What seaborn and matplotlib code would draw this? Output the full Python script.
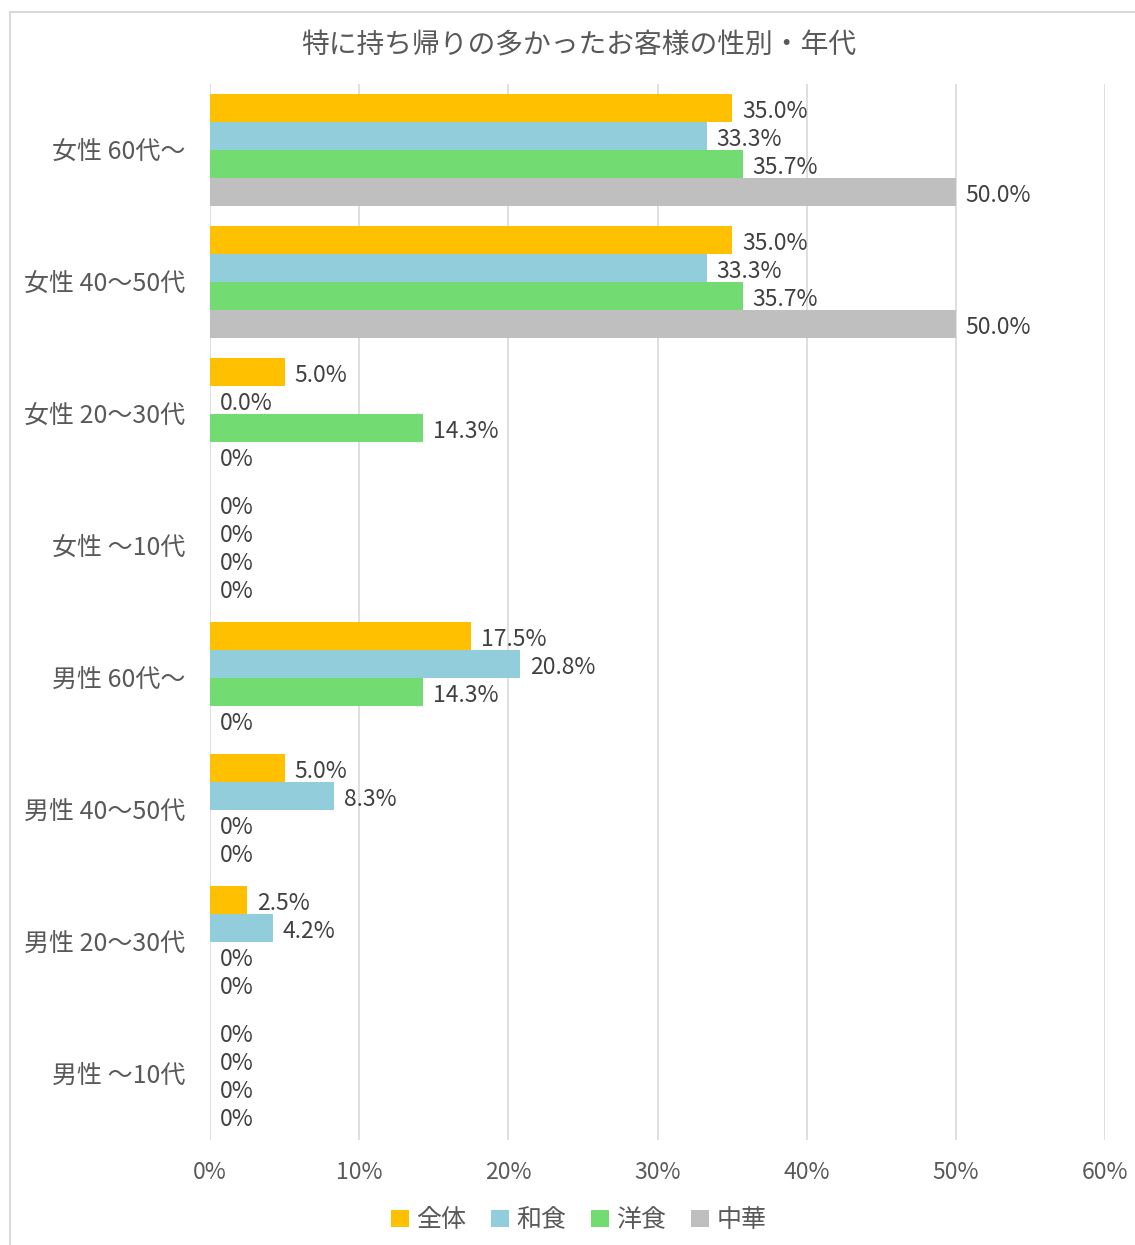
import matplotlib
matplotlib.use("Agg")
import matplotlib.pyplot as plt
import seaborn as sns
import pandas as pd
from matplotlib.patches import Patch, Rectangle

categories = ["女性 60代～", "女性 40～50代", "女性 20～30代", "女性 ～10代",
              "男性 60代～", "男性 40～50代", "男性 20～30代", "男性 ～10代"]
series = ["全体", "和食", "洋食", "中華"]
zentai = [35.0, 35.0, 5.0, 0, 17.5, 5.0, 2.5, 0]
washoku = [33.3, 33.3, 0.0, 0, 20.8, 8.3, 4.2, 0]
yoshoku = [35.7, 35.7, 14.3, 0, 14.3, 0, 0, 0]
chuka = [50.0, 50.0, 0, 0, 0, 0, 0, 0]
labels_zentai = ["35.0%", "35.0%", "5.0%", "0%", "17.5%", "5.0%", "2.5%", "0%"]
labels_washoku = ["33.3%", "33.3%", "0.0%", "0%", "20.8%", "8.3%", "4.2%", "0%"]
labels_yoshoku = ["35.7%", "35.7%", "14.3%", "0%", "14.3%", "0%", "0%", "0%"]
labels_chuka = ["50.0%", "50.0%", "0%", "0%", "0%", "0%", "0%", "0%"]
colors = ["#FFC000", "#92CDDC", "#72DC72", "#BFBFBF"]
x_ticks = [0, 10, 20, 30, 40, 50, 60]

sns.set_theme(style="white")
plt.rcParams['font.family'] = ['Noto Sans CJK JP', 'DejaVu Sans']
txt = "#595959"

values = [zentai, washoku, yoshoku, chuka]
all_labels = [labels_zentai, labels_washoku, labels_yoshoku, labels_chuka]
rows = []
for s, vals in zip(series, values):
    for c, v in zip(categories, vals):
        rows.append({"cat": c, "series": s, "value": v})
df = pd.DataFrame(rows)

fig = plt.figure(figsize=(11.35, 12.45), dpi=100)
ax = fig.add_axes([210/1135, 105/1245, (1105-210)/1135, (1161-105)/1245])

sns.barplot(data=df, y="cat", x="value", hue="series", order=categories,
            hue_order=series, palette=colors, orient="h", width=0.85,
            saturation=1, ax=ax, legend=False, linewidth=0)

for cont, labs in zip(ax.containers, all_labels):
    anns = ax.bar_label(cont, labels=labs, padding=7, fontsize=16.5, color="#404040")
    for a in anns:
        a.xyann = (7, -2.5)

ax.set_xlim(0, 60)
ax.set_ylim(len(categories) - 0.5, -0.5)
ax.set_xticks(x_ticks)
ax.set_xticklabels([f"{t}%" for t in x_ticks], fontsize=16.5, color=txt)
ax.tick_params(axis="x", length=0, pad=15)
ax.tick_params(axis="y", length=0, pad=18, labelsize=18, labelcolor=txt)
ax.set_xlabel("")
ax.set_ylabel("")
ax.grid(axis="x", color="#D9D9D9", linewidth=1.2)
ax.set_axisbelow(True)
for sp in ax.spines.values():
    sp.set_visible(False)

fig.text(0.51, 1 - 45/1245, "特に持ち帰りの多かったお客様の性別・年代",
         ha="center", va="center", fontsize=20, color=txt)

handles = [Patch(facecolor=c, edgecolor="none") for c in colors]
fig.legend(handles, series, loc="center", bbox_to_anchor=(0.51, 1 - 1220/1245),
           ncol=4, frameon=False, fontsize=18, handlelength=0.7, handleheight=0.7,
           handletextpad=0.3, columnspacing=1.0, labelcolor=txt)

fig.patches.append(Rectangle((10/1135, -0.01), 1.2, 1 - 12/1245 + 0.01,
                             transform=fig.transFigure, fill=False,
                             edgecolor="#D9D9D9", linewidth=1.5))

fig.savefig("out.png", dpi=100)
